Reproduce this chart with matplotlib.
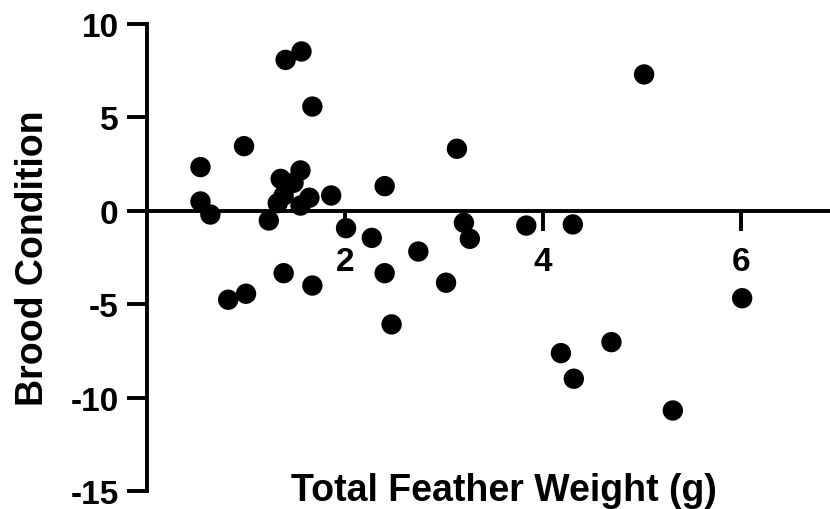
import matplotlib
matplotlib.use('Agg')
import matplotlib.pyplot as plt

# データ (読み取り値)
feather_weight = [0.54, 0.54, 0.64, 0.98, 0.82, 1.00, 1.23, 1.32, 1.38, 1.35,
                  1.48, 1.55, 1.55, 1.64, 1.40, 1.56, 1.67, 1.38, 1.67, 1.86,
                  2.01, 2.27, 2.40, 2.40, 2.47, 2.74, 3.02, 3.13, 3.20, 3.26,
                  3.83, 4.30, 4.18, 4.31, 4.69, 5.02, 5.31, 6.01]
brood_condition = [2.34, 0.50, -0.20, 3.46, -4.76, -4.44, -0.52, 0.41, 0.82, 1.71,
                   1.50, 2.16, 0.28, 0.70, 8.08, 8.53, 5.58, -3.34, -4.00, 0.82,
                   -0.93, -1.45, 1.32, -3.34, -6.08, -2.18, -3.85, 3.32, -0.64, -1.50,
                   -0.79, -0.73, -7.62, -8.99, -7.03, 7.30, -10.69, -4.68]
x_ticks = [2, 4, 6]
y_ticks = [-15, -10, -5, 0, 5, 10]


def main():
    plt.rcParams['font.family'] = ['Liberation Sans', 'DejaVu Sans']
    plt.rcParams['font.weight'] = 'bold'
    plt.rcParams['axes.unicode_minus'] = False

    fig = plt.figure(figsize=(8.3, 5.1), dpi=100)
    ax = fig.add_axes([147 / 830, 18 / 510, 713 / 830, 467 / 510])

    ax.scatter(feather_weight, brood_condition, s=215, color='black',
               edgecolors='none', zorder=3, clip_on=False)

    ax.set_xlim(0, 7.2)
    ax.set_ylim(-15, 10)
    ax.set_xticks(x_ticks)
    ax.set_yticks(y_ticks)

    # 軸の設定
    for side in ['top', 'right']:
        ax.spines[side].set_visible(False)
    ax.spines['bottom'].set_position(('data', 0))
    for side in ['left', 'bottom']:
        ax.spines[side].set_linewidth(2.8)
    ax.tick_params(axis='both', direction='out', length=14.4, width=2.8,
                   labelsize=24)
    ax.tick_params(axis='x', pad=11)
    ax.tick_params(axis='y', pad=6)

    ax.set_xlabel('Total Feather Weight (g)', fontsize=27, fontweight='bold')
    ax.xaxis.set_label_coords(0.5, 0.04)
    ax.set_ylabel('Brood Condition', fontsize=27, fontweight='bold')
    ax.yaxis.set_label_coords(-0.135, 0.5)

    fig.savefig('out.png', dpi=100)


if __name__ == '__main__':
    main()
